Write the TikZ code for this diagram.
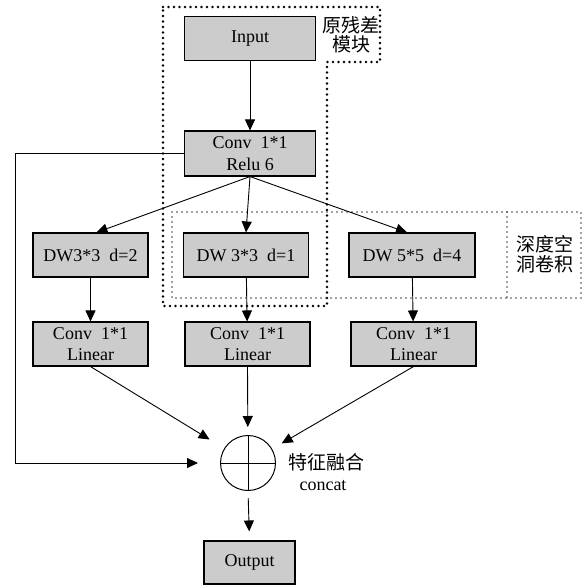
\documentclass[tikz,border=0pt]{standalone}
\usepackage{fontspec}
\setmainfont{Liberation Serif}
\newfontfamily\cjk{Noto Sans CJK SC}
\usetikzlibrary{arrows.meta,calc}
\begin{document}
\begin{tikzpicture}[x=1pt,y=-1pt,
  blk/.style={draw=black,line width=1.1pt,fill=black!20,minimum height=44pt,inner sep=0pt,align=center,font=\fontsize{18}{21.5}\selectfont},
  arr/.style={line width=0.9pt,-{Triangle[length=11pt,width=10pt]}},
  ln/.style={line width=0.9pt},
  bigdots/.style={line width=2.6pt,line cap=round,dash pattern=on 0pt off 5.5pt,black},
  smalldots/.style={line width=1.7pt,line cap=round,dash pattern=on 0pt off 5pt,black!75},
  cjklab/.style={align=center,font=\cjk\fontsize{19}{19.5}\selectfont,inner sep=0pt}]
\useasboundingbox (0,0) rectangle (585,588);
% dotted regions
\draw[bigdots] (163,7) -- (380,7) -- (380,62) -- (327,62) -- (327,306) -- (163,306) -- cycle;
\draw[smalldots] (172,212) rectangle (581,298);
\draw[smalldots] (507,212) -- (507,298);
\node[cjklab] (lab1) at (351,35) {原残差\\模块};
\node[cjklab] (lab2) at (545,254) {深度空\\洞卷积};
% blocks
\node[blk,minimum width=131pt] (input) at (250,38.5) {Input};
\node[blk,minimum width=131pt,minimum height=45pt] (conv) at (250,153.5) {Conv\ \ 1*1\\Relu 6};
\node[blk,minimum width=115pt] (dw1) at (90.5,255) {DW3*3\ \ d=2};
\node[blk,minimum width=125pt] (dw2) at (246,255) {DW 3*3\ \ d=1};
\node[blk,minimum width=126pt] (dw3) at (412,255) {DW 5*5\ \ d=4};
\node[blk,minimum width=115pt] (lin1) at (90.5,344) {Conv\ \ 1*1\\Linear};
\node[blk,minimum width=125pt] (lin2) at (247.5,344) {Conv\ \ 1*1\\Linear};
\node[blk,minimum width=125pt] (lin3) at (413.5,344) {Conv\ \ 1*1\\Linear};
\node[draw,line width=1pt,circle,minimum size=55pt,inner sep=0pt] (circ) at (248,463) {};
\node[blk,minimum width=91pt,minimum height=43pt] (output) at (249.5,562.5) {Output};
\node[cjklab] (lab3) at (326,462) {特征融合};
\node[font=\fontsize{18}{21}\selectfont,inner sep=0pt] (lab4) at (323,486) {concat};
% circle cross
\draw[ln] (circ.north) -- (circ.south);
\draw[ln] (circ.west) -- (circ.east);
% connectors
\draw[arr] (input) -- (conv);
\draw[arr] (conv.south) -- ($(dw1.north)+(6,0)$);
\draw[arr] (conv.south) -- (dw2.north);
\draw[arr] (conv.south) -- ($(dw3.north)+(-5,0)$);
\draw[arr] (dw1) -- (lin1);
\draw[arr] (dw2) -- (lin2);
\draw[arr] (dw3) -- (lin3);
\draw[arr,shorten >=17pt] (lin1.south) -- (circ);
\draw[arr,shorten >=8pt] (lin2.south) -- (circ);
\draw[arr,shorten >=11pt] (lin3.south) -- (circ);
\draw[arr,shorten >=22pt] (conv.west) -- ++(-169,0) |- (circ.west);
\draw[arr,shorten <=7pt,shorten >=9pt] (circ.south) -- (output.north);
\end{tikzpicture}
\end{document}
